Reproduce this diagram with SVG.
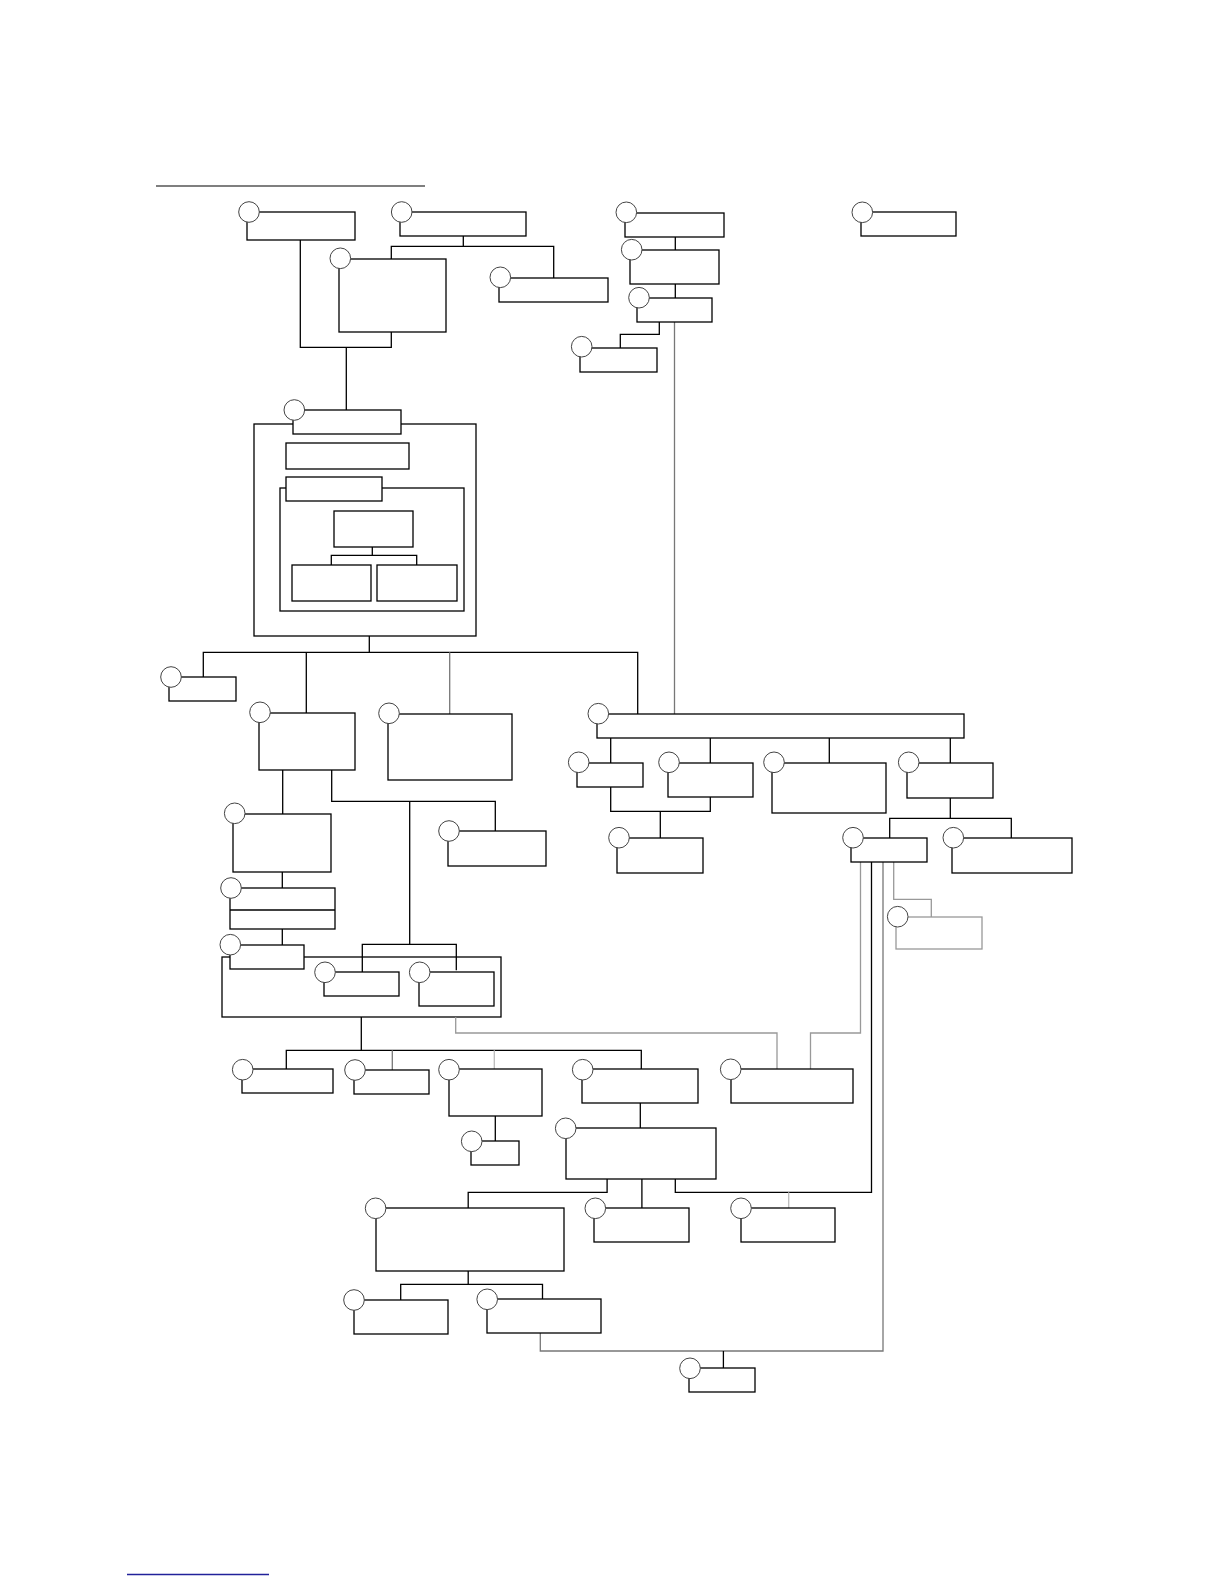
<svg xmlns="http://www.w3.org/2000/svg" width="1224" height="1584" viewBox="0 0 1224 1584">
<style>
.b{fill:#fff;stroke:#000;stroke-width:1.3}
.ct{fill:none;stroke:#000;stroke-width:1.3}
.c{fill:#fff;stroke:#444;stroke-width:1}
.l{fill:none;stroke:#000;stroke-width:1.3}
.g1{fill:none;stroke:#999;stroke-width:1.3}
.g2{fill:none;stroke:#777;stroke-width:1.3}
.g3{fill:none;stroke:#bbb;stroke-width:1.3}
.gb{fill:#fff;stroke:#999;stroke-width:1.3}
</style>
<rect width="1224" height="1584" fill="#fff"/>
<line x1="156" y1="186" x2="425" y2="186" stroke="#000" stroke-width="1.2"/>
<line x1="127" y1="1574.5" x2="269" y2="1574.5" stroke="#22229a" stroke-width="1.5"/>
<g id="containers">
<rect class="ct" x="254" y="424" width="222" height="212"/>
<rect class="ct" x="280" y="488" width="184" height="123"/>
<rect class="ct" x="222" y="957" width="279" height="60"/>
</g>
<g id="connectors">
<path class="l" d="M300.3 240V347.3H391.3V332M346.3 347.3V410"/>
<path class="l" d="M463.3 236V246.3M391.3 259V246.3H553.7V278"/>
<path class="l" d="M675.3 237V250M675.3 284V298"/>
<path class="l" d="M659.3 322V334.3H620.3V348"/>
<path class="g2" d="M674.5 322V714"/>
<path class="l" d="M372.3 547V555.3M331.3 565V555.3H416.7V565"/>
<path class="l" d="M369.3 636V652.3M203.3 677V652.3H637.7V714M306.3 652.3V713"/>
<path class="g2" d="M449.7 652.3V714"/>
<path class="l" d="M610.7 738V763M710.3 738V763M829.3 738V763M950.3 738V763"/>
<path class="l" d="M610.7 787V811.3H710.3V797M660.3 811.3V838"/>
<path class="l" d="M950.3 798V818.3M889.7 838V818.3H1011.3V838"/>
<path class="l" d="M282.7 770V814M331.7 770V801.3H495.3V831M409.7 801.3V944.3M362.3 972V944.3H456.3V970.3"/>
<path class="l" d="M282.3 872V888M282.3 929V945"/>
<path class="l" d="M361.3 1017V1050.3M286.3 1069V1050.3H641.3V1069"/>
<path class="g2" d="M392.3 1050.3V1070"/>
<path class="g3" d="M494.3 1050.3V1069"/>
<path class="l" d="M495.3 1116V1141M640.3 1103V1128"/>
<path class="g1" d="M455.7 1017V1033H777V1069"/>
<path class="g1" d="M860.5 862V1033H810.5V1069"/>
<path class="l" d="M871.5 862V1192.3H675.3V1179"/>
<path class="g2" d="M883 862V1351H540.3V1333"/>
<path class="l" d="M723.4 1351V1368"/>
<path class="g1" d="M893.7 862V899.3H931.3V917"/>
<path class="l" d="M641.9 1179V1208M607.1 1179V1192.3H468.2V1208"/>
<path class="g3" d="M788.7 1192.3V1208"/>
<path class="l" d="M468.2 1271V1284.3M400.7 1300V1284.3H542.5V1299"/>
</g>
<g id="nA"><rect class="b" x="247" y="212" width="108" height="28"/><circle class="c" cx="249" cy="212" r="10.3"/></g>
<g id="nB"><rect class="b" x="400" y="212" width="126" height="24"/><circle class="c" cx="401.7" cy="212" r="10.3"/></g>
<g id="nC"><rect class="b" x="339" y="259" width="107" height="73"/><circle class="c" cx="340.3" cy="258.3" r="10.3"/></g>
<g id="nD"><rect class="b" x="499" y="278" width="109" height="24"/><circle class="c" cx="500.3" cy="277.3" r="10.3"/></g>
<g id="nF"><rect class="b" x="625" y="213" width="99" height="24"/><circle class="c" cx="626.3" cy="212.3" r="10.3"/></g>
<g id="nG"><rect class="b" x="630" y="250" width="89" height="34"/><circle class="c" cx="631.7" cy="249.7" r="10.3"/></g>
<g id="nH"><rect class="b" x="637" y="298" width="75" height="24"/><circle class="c" cx="639" cy="297.7" r="10.3"/></g>
<g id="nI"><rect class="b" x="580" y="348" width="77" height="24"/><circle class="c" cx="581.7" cy="346.7" r="10.3"/></g>
<g id="nJ"><rect class="b" x="861" y="212" width="95" height="24"/><circle class="c" cx="862.3" cy="212.3" r="10.3"/></g>
<g id="nE"><rect class="b" x="293" y="410" width="108" height="24"/><circle class="c" cx="294.3" cy="410" r="10.3"/></g>
<g id="nE1"><rect class="b" x="286" y="443" width="123" height="26"/></g>
<g id="nE2"><rect class="b" x="286" y="477" width="96" height="24"/></g>
<g id="nE3"><rect class="b" x="334" y="511" width="79" height="36"/></g>
<g id="nE4"><rect class="b" x="292" y="565" width="79" height="36"/></g>
<g id="nE5"><rect class="b" x="377" y="565" width="80" height="36"/></g>
<g id="nK"><rect class="b" x="169" y="677" width="67" height="24"/><circle class="c" cx="171" cy="677" r="10.3"/></g>
<g id="nL"><rect class="b" x="259" y="713" width="96" height="57"/><circle class="c" cx="260" cy="712.3" r="10.3"/></g>
<g id="nM"><rect class="b" x="388" y="714" width="124" height="66"/><circle class="c" cx="389" cy="713.3" r="10.3"/></g>
<g id="nN"><rect class="b" x="597" y="714" width="367" height="24"/><circle class="c" cx="598.3" cy="713.7" r="10.3"/></g>
<g id="nQ"><rect class="b" x="577" y="763" width="66" height="24"/><circle class="c" cx="578.7" cy="762.3" r="10.3"/></g>
<g id="nR"><rect class="b" x="668" y="763" width="85" height="34"/><circle class="c" cx="669" cy="762.3" r="10.3"/></g>
<g id="nS"><rect class="b" x="772" y="763" width="114" height="50"/><circle class="c" cx="774" cy="762.3" r="10.3"/></g>
<g id="nT"><rect class="b" x="907" y="763" width="86" height="35"/><circle class="c" cx="908.7" cy="762.3" r="10.3"/></g>
<g id="nU"><rect class="b" x="617" y="838" width="86" height="35"/><circle class="c" cx="619" cy="837.7" r="10.3"/></g>
<g id="nV"><rect class="b" x="851" y="838" width="76" height="24"/><circle class="c" cx="853" cy="837.7" r="10.3"/></g>
<g id="nW"><rect class="b" x="952" y="838" width="120" height="35"/><circle class="c" cx="953.3" cy="837.7" r="10.3"/></g>
<g id="nX"><rect class="gb" x="896" y="917" width="86" height="32"/><circle class="c" cx="897.7" cy="916.7" r="10.3"/></g>
<g id="nO"><rect class="b" x="233" y="814" width="98" height="58"/><circle class="c" cx="234.7" cy="813.3" r="10.3"/></g>
<g id="nP"><rect class="b" x="448" y="831" width="98" height="35"/><circle class="c" cx="449" cy="831" r="10.3"/></g>
<g id="nY"><rect class="b" x="230" y="888" width="105" height="41"/><line x1="230" y1="910" x2="335" y2="910" stroke="#000" stroke-width="1.3"/><circle class="c" cx="231" cy="888" r="10.3"/></g>
<g id="nZ"><rect class="b" x="230" y="945" width="74" height="24"/><circle class="c" cx="230.3" cy="944.7" r="10.3"/></g>
<g id="nAA"><rect class="b" x="324" y="972" width="75" height="24"/><circle class="c" cx="325" cy="972.3" r="10.3"/></g>
<g id="nAB"><rect class="b" x="419" y="972" width="75" height="34"/><circle class="c" cx="419.7" cy="972.3" r="10.3"/></g>
<g id="nAC"><rect class="b" x="242" y="1069" width="91" height="24"/><circle class="c" cx="242.7" cy="1069.7" r="10.3"/></g>
<g id="nAD"><rect class="b" x="354" y="1070" width="75" height="24"/><circle class="c" cx="355" cy="1070" r="10.3"/></g>
<g id="nAF"><rect class="b" x="449" y="1069" width="93" height="47"/><circle class="c" cx="449" cy="1069.7" r="10.3"/></g>
<g id="nAG"><rect class="b" x="471" y="1141" width="48" height="24"/><circle class="c" cx="471.7" cy="1141.3" r="10.3"/></g>
<g id="nAE"><rect class="b" x="582" y="1069" width="116" height="34"/><circle class="c" cx="582.7" cy="1069.7" r="10.3"/></g>
<g id="nAH"><rect class="b" x="566" y="1128" width="150" height="51"/><circle class="c" cx="565.7" cy="1128.3" r="10.3"/></g>
<g id="nAI"><rect class="b" x="731" y="1069" width="122" height="34"/><circle class="c" cx="730.7" cy="1069.3" r="10.3"/></g>
<g id="nAL"><rect class="b" x="376" y="1208" width="188" height="63"/><circle class="c" cx="375.6" cy="1208.3" r="10.3"/></g>
<g id="nAJ"><rect class="b" x="594" y="1208" width="95" height="34"/><circle class="c" cx="595.3" cy="1208.3" r="10.3"/></g>
<g id="nAK"><rect class="b" x="741" y="1208" width="94" height="34"/><circle class="c" cx="741" cy="1208.3" r="10.3"/></g>
<g id="nAM"><rect class="b" x="354" y="1300" width="94" height="34"/><circle class="c" cx="354" cy="1300" r="10.3"/></g>
<g id="nAN"><rect class="b" x="487" y="1299" width="114" height="34"/><circle class="c" cx="487.2" cy="1299.3" r="10.3"/></g>
<g id="nAO"><rect class="b" x="689" y="1368" width="66" height="24"/><circle class="c" cx="690" cy="1368.3" r="10.3"/></g>
</svg>
